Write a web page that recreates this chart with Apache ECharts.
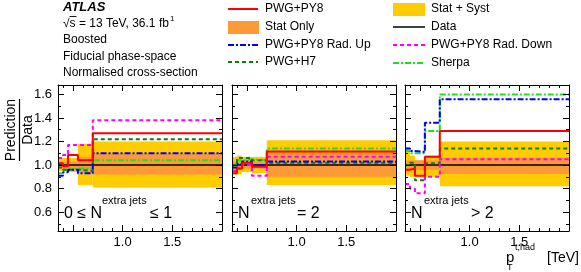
<!DOCTYPE html>
<html><head><meta charset="utf-8">
<script src="https://cdn.jsdelivr.net/npm/echarts@6/dist/echarts.min.js"></script>
<style>html,body{margin:0;padding:0;background:#fff}#c{width:581px;height:272px}</style>
</head><body><div id="c"></div>
<script>
// ---------- data ----------
const binEdges = [0.35, 0.40, 0.45, 0.55, 0.70, 2.00];
const xTickLabels = [1.0, 1.5];
const xMajorTicks = [0.5, 1.0, 1.5];
const xMinorTicks = [0.4, 0.6, 0.7, 0.8, 0.9, 1.1, 1.2, 1.3, 1.4, 1.6, 1.7, 1.8, 1.9];
const yTickLabels = [0.6, 0.8, 1.0, 1.2, 1.4, 1.6];
const yMinorTicks = [0.5, 0.7, 0.9, 1.1, 1.3, 1.5];
const panelMain = ['0 \u2264 N', 'N', 'N'];
const panelSup = ['extra jets', 'extra jets', 'extra jets'];
const panelTail = ['\u2264 1', '= 2', '> 2'];

// panel 1 : 0 <= N extra jets <= 1
const data_p1     = [1.00, 1.00, 1.00, 1.00, 1.00];
const pwgPy8_p1   = [1.015, 0.99, 1.085, 1.04, 1.27];
const radUp_p1    = [0.91, 0.94, 0.96, 0.93, 1.10];
const radDown_p1  = [1.06, 1.085, 1.17, 1.17, 1.38];
const h7_p1       = [0.98, 0.96, 0.96, 0.95, 1.22];
const sherpa_p1   = [0.93, 0.96, 0.97, 0.97, 1.04];
const statLo_p1   = [0.97, 0.97, 0.97, 0.93, 0.92];
const statHi_p1   = [1.03, 1.03, 1.03, 1.07, 1.10];
const totLo_p1    = [0.95, 0.95, 0.94, 0.83, 0.81];
const totHi_p1    = [1.06, 1.06, 1.06, 1.18, 1.20];

// panel 2 : N extra jets = 2
const data_p2     = [1.00, 1.00, 1.00, 1.00, 1.00];
const pwgPy8_p2   = [0.93, 0.97, 1.02, 0.985, 1.115];
const radUp_p2    = [0.98, 1.01, 1.03, 1.00, 1.03];
const radDown_p2  = [0.95, 0.97, 1.00, 0.91, 1.07];
const h7_p2       = [1.00, 1.06, 1.06, 1.04, 1.02];
const sherpa_p2   = [0.97, 1.04, 1.05, 1.04, 1.14];
const statLo_p2   = [0.97, 0.97, 0.97, 0.97, 0.90];
const statHi_p2   = [1.03, 1.03, 1.03, 1.03, 1.11];
const totLo_p2    = [0.92, 0.92, 0.94, 0.93, 0.83];
const totHi_p2    = [1.07, 1.08, 1.07, 1.07, 1.21];

// panel 3 : N extra jets > 2
const data_p3     = [1.00, 1.00, 1.00, 1.00, 1.00];
const pwgPy8_p3   = [0.96, 0.97, 0.91, 1.07, 1.29];
const radUp_p3    = [1.14, 1.12, 1.11, 1.36, 1.56];
const radDown_p3  = [0.84, 0.80, 0.76, 0.90, 1.05];
const h7_p3       = [1.00, 1.02, 0.87, 1.015, 1.14];
const sherpa_p3   = [1.12, 1.10, 1.10, 1.29, 1.60];
const statLo_p3   = [0.96, 0.96, 0.96, 0.96, 0.925];
const statHi_p3   = [1.04, 1.04, 1.04, 1.04, 1.065];
const totLo_p3    = [0.91, 0.90, 0.90, 0.90, 0.82];
const totHi_p3    = [1.15, 1.08, 1.04, 1.08, 1.20];

// ---------- style / layout ----------
const FF = '"Liberation Sans", Arial, Helvetica, sans-serif';
const X_MIN = 0.35, X_MAX = 2.0, Y_MIN = 0.44, Y_MAX = 1.68;
const grids = [
  {left: 58, top: 85, width: 164, height: 146},
  {left: 232, top: 85, width: 164, height: 146},
  {left: 405, top: 85, width: 164, height: 146}
];
const C = {
  yellow: '#FFCC00', orange: '#FD9A38', red: '#FF0000', blue: '#0000FF',
  magenta: '#FF00FF', dgreen: '#0A800A', lgreen: '#22DD22', black: '#000000'
};
const DASH = [4, 3];
const DASHDOT = [6, 2, 2, 2];
const AX = {color: '#000', width: 1};

const panels = [
  {data: data_p1, pwg: pwgPy8_p1, up: radUp_p1, down: radDown_p1, h7: h7_p1, sh: sherpa_p1, sLo: statLo_p1, sHi: statHi_p1, tLo: totLo_p1, tHi: totHi_p1},
  {data: data_p2, pwg: pwgPy8_p2, up: radUp_p2, down: radDown_p2, h7: h7_p2, sh: sherpa_p2, sLo: statLo_p2, sHi: statHi_p2, tLo: totLo_p2, tHi: totHi_p2},
  {data: data_p3, pwg: pwgPy8_p3, up: radUp_p3, down: radDown_p3, h7: h7_p3, sh: sherpa_p3, sLo: statLo_p3, sHi: statHi_p3, tLo: totLo_p3, tHi: totHi_p3}
];

function stepData(vals) {
  const d = vals.map((v, i) => [binEdges[i], v]);
  d.push([binEdges[binEdges.length - 1], vals[vals.length - 1]]);
  return d;
}
function bandData(lo, hi) {
  return lo.map((l, i) => [binEdges[i], binEdges[i + 1], l, hi[i]]);
}

const xAxes = [], yAxes = [], series = [];
panels.forEach((p, i) => {
  const base = {gridIndex: i, type: 'value', min: X_MIN, max: X_MAX, z: 10, splitLine: {show: false}};
  xAxes.push(Object.assign({}, base, {position: 'bottom',
    axisLine: {show: true, onZero: false, lineStyle: AX},
    axisTick: {show: true, inside: true, length: 6, customValues: xMajorTicks, lineStyle: AX},
    axisLabel: {show: true, customValues: xTickLabels, formatter: v => v.toFixed(1), fontSize: 13, fontFamily: FF, color: '#000', margin: 5}}));
  xAxes.push(Object.assign({}, base, {position: 'bottom',
    axisLine: {show: false, onZero: false},
    axisTick: {show: true, inside: true, length: 3, customValues: xMinorTicks, lineStyle: AX},
    axisLabel: {show: false}}));
  xAxes.push(Object.assign({}, base, {position: 'top',
    axisLine: {show: true, onZero: false, lineStyle: AX},
    axisTick: {show: true, inside: true, length: 6, customValues: xMajorTicks, lineStyle: AX},
    axisLabel: {show: false}}));
  xAxes.push(Object.assign({}, base, {position: 'top',
    axisLine: {show: false, onZero: false},
    axisTick: {show: true, inside: true, length: 3, customValues: xMinorTicks, lineStyle: AX},
    axisLabel: {show: false}}));
  const ybase = {gridIndex: i, type: 'value', min: Y_MIN, max: Y_MAX, z: 10, splitLine: {show: false}};
  yAxes.push(Object.assign({}, ybase, {position: 'left',
    axisLine: {show: true, onZero: false, lineStyle: AX},
    axisTick: {show: true, inside: true, length: 6, customValues: yTickLabels, lineStyle: AX},
    axisLabel: {show: i === 0, customValues: yTickLabels, formatter: v => v.toFixed(1), fontSize: 13, fontFamily: FF, color: '#000', margin: 6}}));
  yAxes.push(Object.assign({}, ybase, {position: 'left',
    axisLine: {show: false, onZero: false},
    axisTick: {show: true, inside: true, length: 3, customValues: yMinorTicks, lineStyle: AX},
    axisLabel: {show: false}}));
  yAxes.push(Object.assign({}, ybase, {position: 'right',
    axisLine: {show: true, onZero: false, lineStyle: AX},
    axisTick: {show: true, inside: true, length: 6, customValues: yTickLabels, lineStyle: AX},
    axisLabel: {show: false}}));
  yAxes.push(Object.assign({}, ybase, {position: 'right',
    axisLine: {show: false, onZero: false},
    axisTick: {show: true, inside: true, length: 3, customValues: yMinorTicks, lineStyle: AX},
    axisLabel: {show: false}}));

  const xi = 4 * i, yi = 4 * i;
  const band = (name, lo, hi, color, z) => ({
    type: 'custom', name, xAxisIndex: xi, yAxisIndex: yi, silent: true, z,
    encode: {x: [0, 1], y: [2, 3]},
    data: bandData(lo, hi),
    renderItem: (params, api) => {
      const a = api.coord([api.value(0), api.value(3)]);
      const b = api.coord([api.value(1), api.value(2)]);
      return {type: 'rect', shape: {x: a[0], y: a[1], width: b[0] - a[0], height: b[1] - a[1]}, style: {fill: color}};
    }
  });
  series.push(band('Stat + Syst', p.tLo, p.tHi, C.yellow, 1));
  series.push(band('Stat Only', p.sLo, p.sHi, C.orange, 2));
  const line = (name, vals, color, width, type, z) => ({
    type: 'line', name, xAxisIndex: xi, yAxisIndex: yi, step: 'end', symbol: 'none', silent: true, z,
    data: stepData(vals), lineStyle: {color, width, type}, animation: false
  });
  series.push(line('Data', p.data, C.black, 1.5, 'solid', 3));
  series.push(line('Sherpa', p.sh, C.lgreen, 2, DASHDOT, 4));
  series.push(line('PWG+H7', p.h7, C.dgreen, 2, DASH, 5));
  series.push(line('PWG+PY8 Rad. Up', p.up, C.blue, 2, DASHDOT, 6));
  series.push(line('PWG+PY8 Rad. Down', p.down, C.magenta, 2, DASH, 7));
  series.push(line('PWG+PY8', p.pwg, C.red, 2, 'solid', 8));
});

function T(x, y, s, size, extra) {
  return Object.assign({type: 'text', x, y, silent: true, z: 100,
    style: {text: s, fontSize: size, fontFamily: FF, fill: '#000', align: 'left', verticalAlign: 'middle', textAlign: 'left', textVerticalAlign: 'middle'}}, extra || {});
}
function L(x1, y1, x2, y2, color, w, dash) {
  return {type: 'line', silent: true, z: 100, shape: {x1, y1, x2, y2}, style: {stroke: color, lineWidth: w, lineDash: dash || null}};
}
function R(x, y, w, h, color) {
  return {type: 'rect', silent: true, z: 100, shape: {x, y, width: w, height: h}, style: {fill: color}};
}

const g = [];
// ATLAS block
const atlas = T(63, 7, 'ATLAS', 13); atlas.style.fontWeight = 'bold'; atlas.style.fontStyle = 'italic';
g.push(atlas);
g.push(T(63, 24, '\u221As = 13 TeV, 36.1 fb', 12));
g.push(L(69.5, 16.5, 76.5, 16.5, '#000', 0.9));
g.push(T(170, 19, '1', 8));
g.push(T(63, 40, 'Boosted', 12));
g.push(T(63, 57, 'Fiducial phase-space', 12));
g.push(T(63, 73, 'Normalised cross-section', 12));
// legend col 1
g.push(L(228, 9, 258, 9, C.red, 2));
g.push(T(265, 9, 'PWG+PY8', 12));
g.push(R(228, 21, 31, 13, C.orange));
g.push(T(265, 27, 'Stat Only', 12));
g.push(L(228, 45, 258, 45, C.blue, 2, DASHDOT));
g.push(T(265, 45, 'PWG+PY8 Rad. Up', 12));
g.push(L(228, 62, 258, 62, C.dgreen, 2, DASH));
g.push(T(265, 62, 'PWG+H7', 12));
// legend col 2
g.push(R(393, 3, 32, 13, C.yellow));
g.push(T(431, 9, 'Stat + Syst', 12));
g.push(L(393, 27, 425, 27, C.black, 1.5));
g.push(T(431, 27, 'Data', 12));
g.push(L(393, 45, 425, 45, C.magenta, 2, DASH));
g.push(T(431, 45, 'PWG+PY8 Rad. Down', 12));
g.push(L(393, 63, 425, 63, C.lgreen, 2, DASHDOT));
g.push(T(431, 63, 'Sherpa', 12));
// y title
g.push(T(11, 130, 'Prediction', 14, {rotation: Math.PI / 2}));
g.push(T(28, 130, 'Data', 14, {rotation: Math.PI / 2}));
g.push(L(19.5, 99, 19.5, 161, '#000', 1.2));
g.forEach(e => { if (e.rotation) { e.style.align = 'center'; e.style.textAlign = 'center'; } });
// x title
g.push(T(506, 258, 'p', 15));
g.push(T(507, 268, 'T', 9));
g.push(T(515, 248, 't,had', 9));
g.push(T(547, 258, '[TeV]', 14));
// panel labels
const labPos = [[64, 102, 150], [238, 251, 297], [411, 424, 471]];
labPos.forEach((lp, i) => {
  g.push(T(lp[0], 214, panelMain[i], 16));
  g.push(T(lp[1], 201, panelSup[i], 11));
  g.push(T(lp[2], 214, panelTail[i], 16));
});

const chart = echarts.init(document.getElementById('c'), null, {renderer: 'canvas'});
chart.setOption({
  animation: false,
  backgroundColor: '#fff',
  grid: grids,
  xAxis: xAxes,
  yAxis: yAxes,
  series,
  graphic: {elements: g}
});
</script>
</body></html>
